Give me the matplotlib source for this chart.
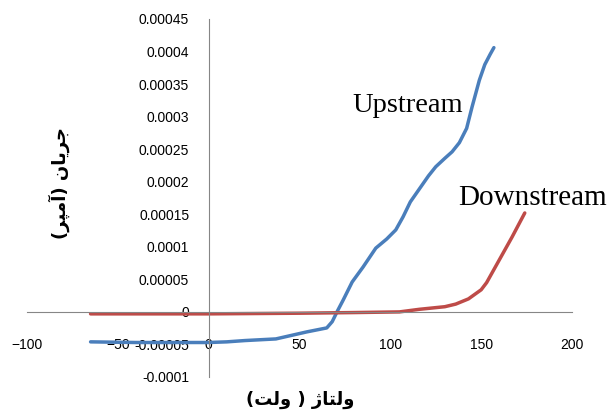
import numpy as np
import matplotlib
matplotlib.use("Agg")
import matplotlib.pyplot as plt
from matplotlib.ticker import FuncFormatter

# voltage (V) / current (A)
up_v = [-65, -40, -20, 0, 10, 20, 37, 54, 65, 68, 71, 74, 79, 85, 92, 98, 103, 107, 111,
        116, 121, 125, 130, 134, 138, 142, 145, 149, 152, 155, 157]
up_i = [-4.6, -4.7, -4.7, -4.7, -4.6, -4.4, -4.15, -3.07, -2.46, -1.5, 0.2, 1.8, 4.6,
        6.9, 9.8, 11.2, 12.6, 14.6, 16.9, 18.9, 20.9, 22.3, 23.6, 24.6, 26.0, 28.2,
        31.5, 35.6, 38.0, 39.6, 40.6]
down_v = [-65, -20, 0, 50, 80, 105, 116, 123, 130, 136, 143, 150, 153, 156, 160, 167, 174]
down_i = [-0.3, -0.3, -0.3, -0.2, -0.1, 0.0, 0.4, 0.6, 0.8, 1.2, 2.0, 3.4, 4.5, 6.0, 8.0,
          11.5, 15.2]
scale = 1e-5

x_ticks = [-100, -50, 0, 50, 100, 150, 200]
y_ticks = np.arange(-0.0001, 0.00045 + 1e-9, 0.00005)

# Arabic text pre-shaped (presentation forms, visual order)
xlabel_txt = "(\ufe96\ufedf\ufeed ) \ufb8a\ufe8e\ufe98\ufedf\ufeed"
ylabel_txt = "(\ufeae\ufb59\ufee3\ufe81) \ufee5\ufe8e\ufbfe\ufeae\ufe9f"

fig = plt.figure(figsize=(6.08, 4.16), dpi=100)
ax = fig.add_axes([27 / 608, 39 / 416, 545 / 608, 358 / 416])

ax.plot(up_v, np.array(up_i) * scale, color="#4A7EBB", lw=2.5, solid_capstyle="round",
        solid_joinstyle="round")
ax.plot(down_v, np.array(down_i) * scale, color="#BE4B48", lw=2.5, solid_capstyle="round",
        solid_joinstyle="round")

ax.set_xlim(-100, 200)
ax.set_ylim(-0.0001, 0.00045)
ax.set_xticks(x_ticks)
ax.set_yticks(y_ticks)
ax.yaxis.set_major_formatter(FuncFormatter(
    lambda v, p: np.format_float_positional(round(v, 6), trim='-')))

for side in ["top", "right"]:
    ax.spines[side].set_visible(False)
ax.spines["left"].set_position(("data", 0))
ax.spines["bottom"].set_position(("data", 0))
for side in ["left", "bottom"]:
    ax.spines[side].set_color("#868686")
    ax.spines[side].set_linewidth(0.8)

ax.tick_params(axis="x", length=0, pad=19, labelsize=10, labelcolor="#000000")
ax.tick_params(axis="y", length=0, pad=14, labelsize=10, labelcolor="#000000")
for lab in ax.get_xticklabels() + ax.get_yticklabels():
    lab.set_fontfamily("Liberation Sans")

ax.text(109.5, 0.000307, "Upstream", family="Liberation Serif", fontsize=20.5,
        ha="center", va="baseline")
ax.text(178, 0.000164, "Downstream", family="Liberation Serif", fontsize=21,
        ha="center", va="baseline")

fig.text(0.493, 0.038, xlabel_txt, family=["DejaVu Sans"], fontweight="bold",
         fontsize=13, ha="center", va="center")
fig.text(0.098, 0.56, ylabel_txt, family=["DejaVu Sans"], fontweight="bold",
         fontsize=13, ha="center", va="center", rotation=90)

fig.savefig("out.png", dpi=100)
